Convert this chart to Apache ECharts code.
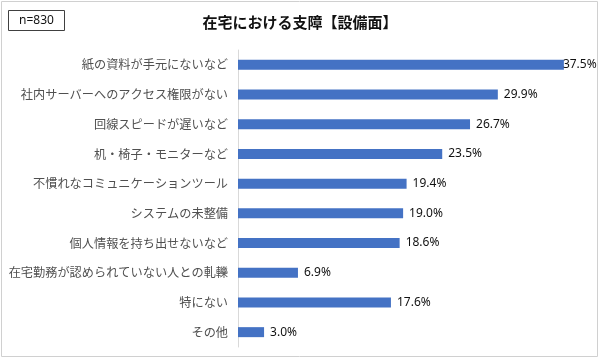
<!DOCTYPE html>
<html><head><meta charset="utf-8">
<script src="https://cdn.jsdelivr.net/npm/echarts@6/dist/echarts.min.js"></script>
<style>html,body{margin:0;padding:0;background:#fff}#c{width:600px;height:361px}</style>
</head><body><div id="c"></div>
<script>
const categories = ['紙の資料が手元にないなど','社内サーバーへのアクセス権限がない','回線スピードが遅いなど','机・椅子・モニターなど','不慣れなコミュニケーションツール','システムの未整備','個人情報を持ち出せないなど','在宅勤務が認められていない人との軋轢','特にない','その他'];
const values = [37.5, 29.9, 26.7, 23.5, 19.4, 19.0, 18.6, 6.9, 17.6, 3.0];
const titleText = '在宅における支障【設備面】';
const sampleText = 'n=830';

const chart = echarts.init(document.getElementById('c'), null, {renderer:'canvas'});
const font = '"Noto Sans CJK JP", sans-serif';
const barData = values.map((v, i) => i === 0 ? {value: v, label: {distance: -1}} : v);
chart.setOption({
  animation:false,
  title:{text:titleText,left:'center',top:10,textStyle:{fontFamily:font,fontSize:15,fontWeight:'bold',color:'#111'}},
  graphic:[
    {type:'rect',shape:{x:1.5,y:1.5,width:596,height:355},style:{fill:'none',stroke:'#d0d0d0',lineWidth:1}},
    {type:'rect',shape:{x:8.5,y:10.5,width:56,height:20},style:{fill:'#fff',stroke:'#404040',lineWidth:1}},
    {type:'text',x:36.5,y:20.5,style:{text:sampleText,fontFamily:'"Noto Sans", sans-serif',fontSize:12,fill:'#111',align:'center',verticalAlign:'middle'}}
  ],
  grid:{left:238,top:50,width:347.6,height:297,containLabel:false},
  xAxis:{type:'value',min:0,max:40,show:false},
  yAxis:{type:'category',data:categories,inverse:true,
    axisLine:{show:true,lineStyle:{color:'#d9d9d9'}},axisTick:{show:false},
    axisLabel:{fontFamily:font,fontSize:12.2,color:'#505050',margin:10}},
  series:[{type:'bar',data:barData,barWidth:10,itemStyle:{color:'#4472C4'},
    label:{show:true,position:'right',distance:6,formatter:p=>p.value.toFixed(1)+'%',fontFamily:'"Noto Sans", sans-serif',fontSize:12,color:'#111'}}]
});
</script></body></html>
